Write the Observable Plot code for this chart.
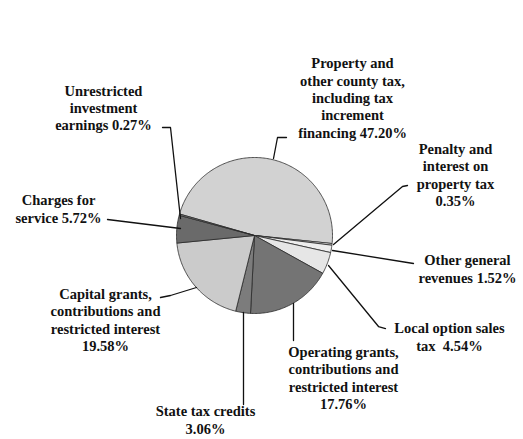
<!DOCTYPE html>
<html><head><meta charset="utf-8">
<script src="https://cdn.jsdelivr.net/npm/d3@7"></script>
<script src="https://cdn.jsdelivr.net/npm/@observablehq/plot@0.6"></script>
<style>
html,body{margin:0;padding:0;background:#fff}
#chart svg text{font-family:"Liberation Serif","DejaVu Serif","Times New Roman",Times,serif !important;}
</style>
</head><body><div id="chart"></div>
<script>
// ---- data ----
const categories = [
  "Property and other county tax, including tax increment financing",
  "Penalty and interest on property tax",
  "Other general revenues",
  "Local option sales tax",
  "Operating grants, contributions and restricted interest",
  "State tax credits",
  "Capital grants, contributions and restricted interest",
  "Charges for service",
  "Unrestricted investment earnings"
];
const shares = [47.20, 0.35, 1.52, 4.54, 17.76, 3.06, 19.58, 5.72, 0.27];
const labelTexts = [
  "Property and\nother county tax,\nincluding tax\nincrement\nfinancing 47.20%",
  "Penalty and\ninterest on\nproperty tax\n0.35%",
  "Other general\nrevenues 1.52%",
  "Local option sales\ntax  4.54%",
  "Operating grants,\ncontributions and\nrestricted interest\n17.76%",
  "State tax credits\n3.06%",
  "Capital grants,\ncontributions and\nrestricted interest\n19.58%",
  "Charges for\nservice 5.72%",
  "Unrestricted\ninvestment\nearnings 0.27%"
];
const shades = ["#d2d2d2", "#f3f3f3", "#eeeeee", "#e6e6e6", "#747474", "#7c7c7c", "#cbcbcb", "#6a6a6a", "#8c8c8c"];

// ---- layout (pixels) ----
const W = 523, H = 439, CX = 254, CY = 235, R = 78;
const startDeg = -74;
const labelPos = [ // [x, y] block centre
  [352, 97], [455, 174], [467, 268], [449, 336], [343, 377],
  [205, 419], [105, 319], [58, 208], [103, 107]
];
const leaderPts = [
  [[286,137],[277,137],[273,158]],
  [[407,185],[402,186],[333,244]],
  [[413,263],[332,250]],
  [[385,328],[378,326],[328,265]],
  [[293,340],[293,303]],
  [[243,404],[243,312]],
  [[160,297],[170,295],[196,287]],
  [[107,219],[180,228]],
  [[162,127],[170,127],[180,218]]
];
const u = px => (px - CX) / R;
const v = py => (CY - py) / R;

// ---- pie polygons ----
const arcs = d3.pie().sort(null)
  .startAngle(startDeg * Math.PI / 180)
  .endAngle(startDeg * Math.PI / 180 + 2 * Math.PI)(shares);
const piePts = [];
arcs.forEach((a, i) => {
  const name = categories[i];
  piePts.push({name, x: 0, y: 0});
  const n = Math.max(2, Math.ceil((a.endAngle - a.startAngle) / (Math.PI / 180)));
  for (let k = 0; k <= n; k++) {
    const t = a.startAngle + (a.endAngle - a.startAngle) * k / n;
    piePts.push({name, x: Math.sin(t), y: Math.cos(t)});
  }
  piePts.push({name, x: 0, y: 0});
});
const labels = categories.map((c, i) => ({name: c, text: labelTexts[i], x: u(labelPos[i][0]), y: v(labelPos[i][1])}));
const leaders = leaderPts.flatMap((pts, i) => pts.map(p => ({id: i, x: u(p[0]), y: v(p[1])})));

const chart = Plot.plot({
  width: W, height: H,
  margin: 0,
  x: {domain: [u(0), u(W)], axis: null},
  y: {domain: [v(H), v(0)], axis: null},
  color: {domain: categories, range: shades},
  style: {background: "#fff"},
  marks: [
    Plot.line(piePts, {x: "x", y: "y", z: "name", fill: "name", stroke: "#2a2a2a", strokeWidth: 0.8}),
    Plot.line(leaders, {x: "x", y: "y", z: "id", stroke: "#111", strokeWidth: 1.3}),
    Plot.text(labels, {x: "x", y: "y", text: "text", textAnchor: "middle", lineAnchor: "middle",
      lineHeight: 1.2, fontSize: 14.5, fontWeight: "bold", fill: "#111"})
  ]
});
document.getElementById("chart").appendChild(chart);
</script>
</body></html>
